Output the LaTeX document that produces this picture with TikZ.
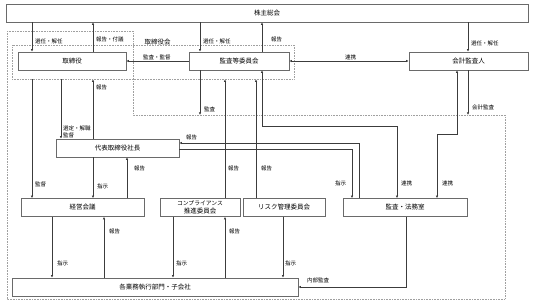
\documentclass[tikz,border=0pt]{standalone}
\usepackage{fontspec}
\setmainfont{Noto Sans CJK JP}
\usetikzlibrary{arrows.meta}
\definecolor{OrgLine}{HTML}{3C3C3C}
\definecolor{OrgFrame}{HTML}{6A6A6A}
\definecolor{OrgDots}{HTML}{A0A0A0}

\begin{document}
\begin{tikzpicture}[x=1pt,y=-1pt,
    orgbox/.style={draw=OrgFrame,line width=0.5pt,inner sep=0pt,align=center,font=\fontsize{6.5}{7.5}\selectfont},
    grp/.style={draw=OrgDots,line width=0.6pt,densely dotted},
    conn/.style={draw=OrgLine,line width=0.5pt},
    arr/.style={conn,-{Latex[length=2.6pt,width=2.4pt]}},
    biarr/.style={conn,{Latex[length=2.6pt,width=2.4pt]}-{Latex[length=2.6pt,width=2.4pt]}},
    lbl/.style={anchor=west,inner sep=0pt,align=left,font=\fontsize{5.5}{7.5}\selectfont}]
  \useasboundingbox (0,0) rectangle (537,305);
  \draw[grp] (7,31) -- (133,31) -- (133,115) -- (505,115) -- (505,299) -- (7,299) -- cycle;
  \node[grp,minimum width=282pt,minimum height=34pt,inner sep=0pt] (torikai) at (153,62) {};
  \node[inner sep=0pt,font=\fontsize{6.5}{7.5}\selectfont] (torikaiLbl) at (157.5,42) {取締役会};
  \coordinate (execTop) at (0,115);
  \foreach \nm/\x/\y/\w/\txt in {kabu/267/13/522/株主総会,tori/72/61/108/取締役,
      kansa/239/61/100/監査等委員会,kaikei/468.5/61/119/会計監査人,
      daihyo/117.5/148/123/代表取締役社長,keiei/82.5/207.5/123/経営会議,
      comp/200/207.5/80/{\fontsize{5.8}{7}\selectfont コンプライアンス\\推進委員会},
      risk/284/207.5/82/リスク管理委員会,homu/405/207.5/124/監査・法務室,
      gyomu/155/287/286/各業務執行部門・子会社}{
    \node[orgbox,minimum width=\w pt,minimum height=18pt] (\nm) at (\x,\y) {\txt};
  }
  \draw[arr] (kabu.south -| 32,0) -- (tori.north -| 32,0);
  \draw[arr] (tori.north -| 93,0) -- (kabu.south -| 93,0);
  \draw[arr] (kabu.south -| 200,0) -- (kansa.north -| 200,0);
  \draw[arr] (kansa.north -| 262,0) -- (kabu.south -| 262,0);
  \draw[arr] (kabu.south -| 468,0) -- (kaikei.north -| 468,0);
  \draw[arr] (kansa.west) -- (tori.east);
  \draw[biarr] (kansa.east) -- (kaikei.west);
  \draw[arr] (torikai.south -| 32,0) -- (keiei.north -| 32,0);
  \draw[arr] (torikai.south -| 61,0) -- (daihyo.north -| 61,0);
  \draw[arr] (daihyo.north -| 93,0) -- (torikai.south -| 93,0);
  \draw[arr] (kansa.south -| 200,0) -- (execTop -| 200,0);
  \draw[arr] (comp.north -| 225,0) -- (torikai.south -| 225,0);
  \draw[arr] (risk.north -| 256,0) -- (torikai.south -| 256,0);
  \draw[biarr] (kansa.south -| 262,0) -- (262,126) -| (homu.north -| 397,0);
  \draw[biarr] (kaikei.south -| 457,0) -- (457,134) -| (homu.north -| 437,0);
  \draw[arr] (kaikei.south -| 468,0) -- (execTop -| 468,0);
  \draw[arr] (homu.north -| 359,0) |- ([yshift=5pt]daihyo.east);
  \draw[arr] ([yshift=-1pt]daihyo.east) -| (homu.north -| 352,0);
  \draw[arr] (daihyo.south -| 93,0) -- (keiei.north -| 93,0);
  \draw[arr] (keiei.north -| 127,0) -- (daihyo.south -| 127,0);
  \draw[arr] (keiei.south -| 52,0) -- (gyomu.north -| 52,0);
  \draw[arr] (gyomu.north -| 104,0) -- (keiei.south -| 104,0);
  \draw[arr] (comp.south -| 173,0) -- (gyomu.north -| 173,0);
  \draw[arr] (gyomu.north -| 225,0) -- (comp.south -| 225,0);
  \draw[arr] (risk.south -| 283,0) -- (gyomu.north -| 283,0);
  \draw[arr] (homu.south -| 406,0) |- (gyomu.east);
  \foreach \nm/\x/\y/\txt in {lSenninTori/35/41/選任・解任,lHokokuFugi/96/39/報告・付議,
      lSenninKansa/203/41/選任・解任,lHokokuKansa/271/39/報告,
      lSenninKaikei/471/43/選任・解任,lKansaKantoku/143/57/監査・監督,
      lRenkeiA/345/57/連携,lKantokuKeiei/35/184/監督,
      lSentei/63/132/{選定・解職\\監督},lHokokuDaihyo/96/87/報告,
      lKansa/204/109/監査,lHokokuComp/228/168/報告,lHokokuRisk/261/168/報告,
      lRenkeiB/401/183/連携,lRenkeiC/442/183/連携,lKaikeiKansa/472/107/会計監査,
      lHokokuHomu/186/137/報告,lShijiHomu/335/183/指示,lShijiKeiei/97/186/指示,
      lHokokuKeiei/134/168/報告,lShijiGyomuA/57/263/指示,lHokokuGyomuA/109/231/報告,
      lShijiGyomuB/176/263/指示,lHokokuGyomuB/229/231/報告,
      lShijiGyomuC/285/263/指示,lNaibu/307/280/内部監査}{
    \node[lbl] (\nm) at (\x,\y) {\txt};
  }
\end{tikzpicture}
\end{document}
